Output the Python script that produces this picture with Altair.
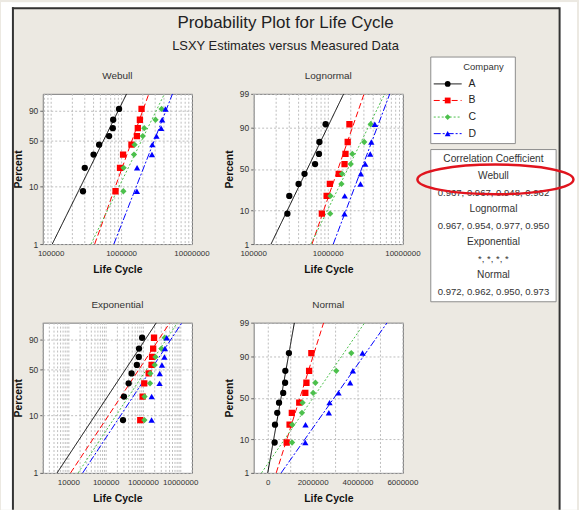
import altair as alt
import pandas as pd
import numpy as np
from statistics import NormalDist

TITLE = "Probability Plot for Life Cycle"
SUBTITLE = "LSXY Estimates versus Measured Data"

companies = ["A", "B", "C", "D"]
percent = [8.3, 20.2, 32.1, 44.0, 56.0, 67.9, 79.8, 91.7]
life_A = [283000, 300000, 400000, 480000, 665000, 750000, 760000, 920000]
life_B = [820000, 950000, 1050000, 1380000, 1650000, 1700000, 1820000, 1920000]
life_C = [1060000, 1070000, 1500000, 1530000, 2000000, 2100000, 3030000, 3700000]
life_D = [1650000, 1660000, 2700000, 2730000, 3130000, 3650000, 3770000, 4200000]
life = {"A": life_A, "B": life_B, "C": life_C, "D": life_D}

corr_names = ["Webull", "Lognormal", "Exponential", "Normal"]
corr_weibull = ["0.967", "0.967", "0.948", "0.962"]
corr_lognormal = ["0.967", "0.954", "0.977", "0.950"]
corr_exponential = ["*", "*", "*", "*"]
corr_normal = ["0.972", "0.962", "0.950", "0.973"]

ticks_weibull = [1, 10, 50, 90]
ticks_normal = [1, 10, 50, 90, 99]
xlab_weibull = [100000, 1000000, 10000000]
xlab_lognormal = [100000, 1000000, 10000000]
xlab_expo = [10000, 100000, 1000000, 10000000]
xlab_normal = [0, 2000000, 4000000, 6000000]

colors = ["#000000", "#FF0000", "#4CC04C", "#0000FF"]
shapes = ["circle", "square", "diamond", "triangle-up"]
dashes = [[1, 0], [6, 3], [2, 2], [7, 2, 2, 2]]

FONT = "Liberation Sans"
BG = "#ECE9E2"
GRID = "#BDBDBD"

nd = NormalDist()


def tf_weibull(p):
    return float(np.log(-np.log(1 - p / 100.0)))


def tf_normal(p):
    return nd.inv_cdf(p / 100.0)


def fit_line(kind, xs, zs, zlo, zhi):
    x = np.asarray(xs, float)
    z = np.asarray(zs, float)
    if kind in ("weibull", "lognormal"):
        b, a = np.polyfit(z, np.log(x), 1)
        return float(np.exp(a + b * zlo)), float(np.exp(a + b * zhi))
    if kind == "normal":
        b, a = np.polyfit(z, x, 1)
        return float(a + b * zlo), float(a + b * zhi)
    w = np.exp(z)
    theta = float((x * w).sum() / (w * w).sum())
    return theta * float(np.exp(zlo)), theta * float(np.exp(zhi))


def log_grid(lo_exp, hi_exp):
    return [m * 10 ** k for k in range(lo_exp, hi_exp) for m in range(1, 10)] + [10 ** hi_exp]


color_scale = alt.Scale(domain=companies, range=colors)
shape_scale = alt.Scale(domain=companies, range=shapes)
dash_scale = alt.Scale(domain=companies, range=dashes)


def make_panel(kind, title, xscale, xgrid, xlabels, extra=()):
    tf = tf_weibull if kind in ("weibull", "exponential") else tf_normal
    yticks = ticks_weibull if kind in ("weibull", "exponential") else ticks_normal
    zlo, zhi = tf(1.0), tf(99.0)
    prow, lrow = [], []
    for c in companies:
        zs = [tf(p) for p in percent]
        for xv, zv in zip(life[c], zs):
            prow.append({"company": c, "x": xv, "z": zv})
        x0, x1 = fit_line(kind, life[c], zs, zlo, zhi)
        lrow.append({"company": c, "x": x0, "z": zlo})
        lrow.append({"company": c, "x": x1, "z": zhi})
    pdf = pd.DataFrame(prow)
    ldf = pd.DataFrame(lrow)
    gdf = pd.DataFrame({"x": xgrid})
    tdf = pd.DataFrame({"x": xlabels, "lab": [str(v) for v in xlabels]})

    yvals = [tf(p) for p in yticks]
    yexpr = "".join(
        f"abs(datum.value - ({v!r})) < 1e-6 ? '{lab}' : " for v, lab in zip(yvals, yticks)
    ) + "''"

    x_axis = alt.Axis(
        values=xlabels, tickCount=200, labels=False, grid=False, ticks=False, domain=False,
        title="Life Cycle", titleFontSize=10.5, titleFontWeight="bold",
        titleColor="#111111", titlePadding=21,
    )
    y_axis = alt.Axis(
        values=yvals, tickCount=200, labelExpr=yexpr, grid=True, gridDash=[2, 2],
        gridColor=GRID, ticks=True, tickSize=3, tickColor="#666666", domain=False,
        labelFontSize=8.5, labelColor="#333333", labelPadding=2, labelFlush=False,
        labelOverlap=False, title="Percent", titleFontSize=10.5, titleFontWeight="bold",
        titleColor="#111111", titlePadding=5,
    )
    x_enc = alt.X("x:Q", scale=xscale, axis=x_axis)
    y_scale = alt.Scale(domain=[zlo, zhi], nice=False, zero=False)

    vgrid = alt.Chart(gdf).mark_rule(strokeDash=[2, 2], color=GRID, strokeWidth=1).encode(x=x_enc)
    xlabs = alt.Chart(tdf).mark_text(fontSize=8, color="#333333", baseline="middle",
                                      align="center").encode(
        x="x:Q", y=alt.value(161), text="lab:N")
    lines = alt.Chart(ldf).mark_line(clip=True, strokeWidth=1).encode(
        x="x:Q", y=alt.Y("z:Q", scale=y_scale, axis=y_axis),
        color=alt.Color("company:N", scale=color_scale, legend=None),
        strokeDash=alt.StrokeDash("company:N", scale=dash_scale, legend=None),
        detail="company:N",
    )
    pts = alt.Chart(pdf).mark_point(filled=True, size=40, opacity=1, clip=True).encode(
        x="x:Q", y="z:Q",
        color=alt.Color("company:N", scale=color_scale, legend=None),
        shape=alt.Shape("company:N", scale=shape_scale, legend=None),
    )
    head = alt.Chart(pd.DataFrame({"t": [title]})).mark_text(
        fontSize=10, color="#333333", baseline="middle", align="center").encode(
        text="t:N", x=alt.value(75), y=alt.value(-18))
    return alt.layer(vgrid, *extra, lines, pts, xlabs, head).properties(width=150, height=151)


one = pd.DataFrame({"k": [0]})

# decorations attached to Weibull panel: outer frame strips and main titles
left_strip = alt.Chart(one).mark_rect(color="white").encode(
    x=alt.value(-42), x2=alt.value(-31), y=alt.value(-92), y2=alt.value(418))
top_strip = alt.Chart(one).mark_rect(color="white").encode(
    x=alt.value(-42), x2=alt.value(537), y=alt.value(-92), y2=alt.value(-87))
left_line = alt.Chart(one).mark_rule(color="#333333", strokeWidth=2).encode(
    x=alt.value(-30), y=alt.value(-87), y2=alt.value(418))
top_line = alt.Chart(one).mark_rule(color="#333333", strokeWidth=2).encode(
    x=alt.value(-31), x2=alt.value(519), y=alt.value(-86))
title_txt = alt.Chart(pd.DataFrame({"t": [TITLE]})).mark_text(
    fontSize=17, color="#222222", baseline="middle", align="center").encode(
    text="t:N", x=alt.value(244), y=alt.value(-71))
subtitle_txt = alt.Chart(pd.DataFrame({"t": [SUBTITLE]})).mark_text(
    fontSize=13, color="#222222", baseline="middle", align="center").encode(
    text="t:N", x=alt.value(244), y=alt.value(-48))

W = make_panel("weibull", "Webull",
               alt.Scale(type="log", domain=[76000, 10000000], nice=False),
               [80000, 90000] + log_grid(5, 7), xlab_weibull,
               extra=(left_strip, top_strip, left_line, top_line, title_txt, subtitle_txt))
L = make_panel("lognormal", "Lognormal",
               alt.Scale(type="log", domain=[100000, 10000000], nice=False),
               log_grid(5, 7), xlab_lognormal)
E = make_panel("exponential", "Exponential",
               alt.Scale(type="log", domain=[2000, 20000000], nice=False),
               [2000, 3000, 4000, 5000, 6000, 7000, 8000, 9000] + log_grid(4, 7) + [20000000],
               xlab_expo)
N = make_panel("normal", "Normal",
               alt.Scale(type="linear", domain=[-650000, 6000000], nice=False, zero=False),
               [0, 1000000, 2000000, 3000000, 4000000, 5000000, 6000000], xlab_normal)

# Legend column (view origin sits at x=466, y=92 of the picture)
cdf = pd.DataFrame({"company": companies})
company_rect = alt.Chart(one).mark_rect(fill="white", stroke="#8C8C8C", strokeWidth=1).encode(
    x=alt.value(-34), x2=alt.value(51), y=alt.value(-37), y2=alt.value(50))
corr_rect = alt.Chart(one).mark_rect(fill="white", stroke="#8C8C8C", strokeWidth=1).encode(
    x=alt.value(-34), x2=alt.value(92), y=alt.value(56), y2=alt.value(209))
leg_y = alt.Y("company:N", scale=alt.Scale(type="point", domain=companies, range=[-10, 40], padding=0), axis=None)
leg_rule = alt.Chart(cdf).mark_rule(strokeWidth=1).encode(
    x=alt.value(-31), x2=alt.value(-3), y=leg_y,
    color=alt.Color("company:N", scale=color_scale, legend=None),
    strokeDash=alt.StrokeDash("company:N", scale=dash_scale, legend=None))
leg_pts = alt.Chart(cdf).mark_point(filled=True, size=34, opacity=1).encode(
    x=alt.value(-17), y=leg_y,
    color=alt.Color("company:N", scale=color_scale, legend=None),
    shape=alt.Shape("company:N", scale=shape_scale, legend=None))
leg_txt = alt.Chart(cdf).mark_text(align="left", baseline="middle", fontSize=10.5, color="#222222").encode(
    x=alt.value(4), y=leg_y, text="company:N")
leg_title = alt.Chart(pd.DataFrame({"t": ["Company"]})).mark_text(
    fontSize=9.5, color="#333333", baseline="middle", align="center").encode(
    text="t:N", x=alt.value(19), y=alt.value(-27))

corr_lines = ["Correlation Coefficient"]
corr_kind = ["head"]
for name, vals in zip(corr_names, [corr_weibull, corr_lognormal, corr_exponential, corr_normal]):
    corr_lines.append(name)
    corr_kind.append("head")
    corr_lines.append(", ".join(vals))
    corr_kind.append("vals")
rdf = pd.DataFrame({"row": list(range(len(corr_lines))), "t": corr_lines, "kind": corr_kind})
corr_y = alt.Y("row:O", scale=alt.Scale(type="point", domain=list(range(len(corr_lines))), range=[66, 199], padding=0), axis=None)
corr_head = alt.Chart(rdf).transform_filter("datum.kind == 'head'").mark_text(
    fontSize=10.2, color="#333333", baseline="middle", align="center").encode(
    x=alt.value(29), y=corr_y, text="t:N")
corr_vals = alt.Chart(rdf).transform_filter("datum.kind == 'vals'").mark_text(
    fontSize=9.6, color="#333333", baseline="middle", align="center").encode(
    x=alt.value(29), y=corr_y, text="t:N")
right_strip = alt.Chart(one).mark_rect(color="white").encode(
    x=alt.value(95), x2=alt.value(113), y=alt.value(-92), y2=alt.value(418))
right_line = alt.Chart(one).mark_rule(color="#333333", strokeWidth=2).encode(
    x=alt.value(95.5), y=alt.value(-87), y2=alt.value(418))
ellipse_path = "M -1 0 A 1 0.19 0 1 0 1 0 A 1 0.19 0 1 0 -1 0 Z"
ellipse = alt.Chart(one).mark_point(shape=ellipse_path, size=24600, filled=False,
                                    stroke="#E0141E", strokeWidth=2.5, opacity=1).encode(
    x=alt.value(31), y=alt.value(86))

LEG = alt.layer(company_rect, corr_rect, leg_rule, leg_pts, leg_txt, leg_title,
                corr_head, corr_vals, right_strip, right_line, ellipse).resolve_scale(y="independent").properties(
    width=1, height=151, view=alt.ViewBackground(fill="transparent", stroke="transparent"))

chart = alt.concat(W, L, LEG, E, N, columns=3, spacing={"row": 79, "column": 62},
                   bounds="flush").properties(
    background=BG, padding=0
).configure(font=FONT).configure_view(fill="white", stroke="#7A7A7A", strokeWidth=1)

chart.save("out.html", embed_options={"renderer": "svg", "actions": False})
